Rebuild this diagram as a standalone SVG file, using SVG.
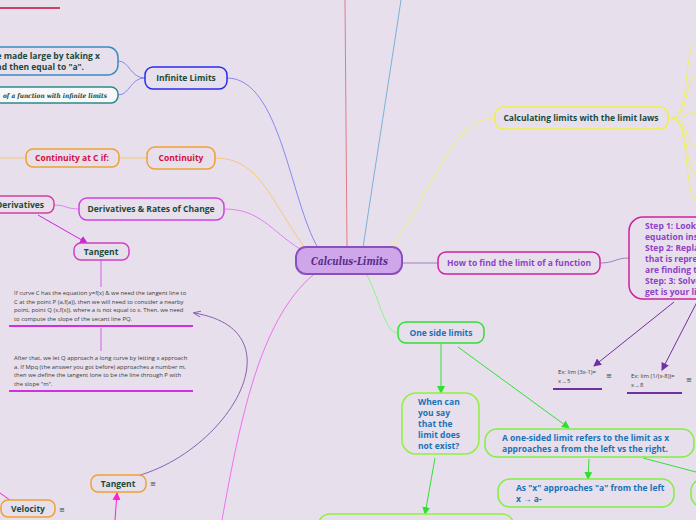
<svg xmlns="http://www.w3.org/2000/svg" width="696" height="520" viewBox="0 0 696 520">
<defs>
<style>
.t{font-family:"Open Sans","Noto Sans","Liberation Sans",sans-serif;font-weight:bold;font-size:8.5px}
.g{fill:#1a4a3a}
.b{fill:#1a72b6}
.p{fill:#9040c8}
.r{fill:#d4103c}
.sm{font-family:"Open Sans","Noto Sans","Liberation Sans",sans-serif;font-size:5.9px;fill:#3a3a3a}
.n{fill:#e7e0ec;stroke-width:1.5}
.c{fill:none;stroke-width:1}
.ic{font-family:"DejaVu Sans",sans-serif;font-size:7px;fill:#1a4a4a}
</style>
<marker id="ag" markerWidth="8" markerHeight="8" refX="7" refY="4" orient="auto" markerUnits="userSpaceOnUse"><path d="M0,0 L8,4 L0,8 z" fill="#30e030"/></marker>
<marker id="ap" markerWidth="8" markerHeight="8" refX="7" refY="4" orient="auto" markerUnits="userSpaceOnUse"><path d="M0,0 L8,4 L0,8 z" fill="#7030a0"/></marker>
<marker id="am" markerWidth="8" markerHeight="8" refX="7" refY="4" orient="auto" markerUnits="userSpaceOnUse"><path d="M0,0 L8,4 L0,8 z" fill="#d020e0"/></marker>
<marker id="apk" markerWidth="8" markerHeight="8" refX="7" refY="4" orient="auto" markerUnits="userSpaceOnUse"><path d="M0,0 L8,4 L0,8 z" fill="#ff20d0"/></marker>
<marker id="av" markerWidth="8" markerHeight="8" refX="7" refY="4" orient="auto" markerUnits="userSpaceOnUse"><path d="M0,1 L8,4 L0,7" fill="none" stroke="#8a60b0" stroke-width="1"/></marker>
</defs>
<rect width="696" height="520" fill="#e7e0ec"/>

<g id="connectors">
<path class="c" d="M345,0 L347,247" stroke="#e07a8a" stroke-width="1.2"/>
<path class="c" d="M401,0 C392,60 370,200 363,248" stroke="#7ab0d8"/>
<path class="c" d="M390,248 C430,200 450,118 495,118" stroke="#f0f070"/>
<path class="c" d="M318,248 C290,200 280,78 227,78" stroke="#8888f0"/>
<path class="c" d="M305,248 C270,200 260,158 215,158" stroke="#f8c878"/>
<path class="c" d="M300,249 C270,230 260,209 224,209" stroke="#e080f0"/>
<path class="c" d="M402,263 L438,263" stroke="#a080c0" stroke-width="1.5"/>
<path class="c" d="M367,275 C380,300 385,333 398,333" stroke="#90f090"/>
<path class="c" d="M313,275 C260,320 240,420 222,520" stroke="#f070f0"/>
<path class="c" d="M145,78 C130,78 130,61 118,61" stroke="#8888f0"/>
<path class="c" d="M145,78 C130,78 130,95 118,95" stroke="#8888f0"/>
<path class="c" d="M147,158 L119,158" stroke="#f8c878"/>
<path class="c" d="M26,158 L0,158" stroke="#f8c878"/>
<path class="c" d="M79,209 C66,209 66,205 54,205" stroke="#e080f0"/>
<path class="c" d="M38,215 L87,243" stroke="#d020e0" marker-end="url(#am)"/>
<path class="c" d="M101,260 L101,287" stroke="#d060e0"/>
<path class="c" d="M101,328 L101,351" stroke="#d060e0"/>
<path class="c" d="M137,476 C230,450 300,330 194,313" stroke="#8a60b0" marker-end="url(#av)"/>
<path class="c" d="M115,520 L117,493" stroke="#ff20d0" stroke-width="1.2" marker-end="url(#apk)"/>
<path class="c" d="M0,493 L10,500" stroke="#ff20d0"/>
<path class="c" d="M672,118 C690,118 684,43 696,43 M672,118 C690,118 684,77 696,77 M672,118 C690,118 684,112 696,112 M672,118 C690,118 684,145 696,145 M672,118 C690,118 684,173 696,173 M672,118 C690,118 684,199 696,199" stroke="#f0f060"/>
<path class="c" d="M668,118 L674,118" stroke="#f0f040" stroke-width="2"/>
<path class="c" d="M600,263 C615,263 615,258 629,258" stroke="#a080c0" stroke-width="1.2"/>
<path class="c" d="M674,302 L594,366" stroke="#7030a0" stroke-width="1.2" marker-end="url(#ap)"/>
<path class="c" d="M698,300 L662,370" stroke="#7030a0" stroke-width="1.2" marker-end="url(#ap)"/>
<path class="c" d="M441,344 L441,393" stroke="#30e030" marker-end="url(#ag)"/>
<path class="c" d="M435,458 L425,514" stroke="#30e030" marker-end="url(#ag)"/>
<path class="c" d="M458,347 L569,428" stroke="#30e030" marker-end="url(#ag)"/>
<path class="c" d="M589,459 L588,479" stroke="#30e030" marker-end="url(#ag)"/>
<path class="c" d="M643,458 L696,472" stroke="#30e030"/>
</g>

<g id="topline"><path d="M0,8 L60,8" stroke="#d04060" stroke-width="2"/></g>

<g id="central">
<rect x="296" y="247" width="106" height="27" rx="10" fill="#cfa6e9" stroke="#8a4fbf" stroke-width="2"/>
<text x="311" y="265" textLength="77" lengthAdjust="spacingAndGlyphs" font-family="DejaVu Serif,serif" font-weight="bold" font-style="italic" font-size="11" fill="#5a2a8a">Calculus-Limits</text>
</g>

<g id="infinite-limits">
<rect class="n" x="145" y="67" width="82" height="22" rx="8" stroke="#2a2aee"/>
<text class="t g" x="186" y="81" text-anchor="middle">Infinite Limits</text>
</g>
<g id="inf-child1">
<rect class="n" x="-20" y="47" width="138" height="28" rx="10" stroke="#3a8ac0"/>
<text class="t g" x="100" y="59" text-anchor="end">be made large by taking x</text>
<text class="t g" x="84" y="70" text-anchor="end">nd then equal to "a".</text>
</g>
<g id="inf-child2">
<rect x="-20" y="87" width="138" height="16" rx="7" fill="#f8f8fb" stroke="#2a8a8a" stroke-width="1.5"/>
<text x="3" y="98" textLength="104" lengthAdjust="spacingAndGlyphs" font-family="DejaVu Serif,serif" font-weight="bold" font-style="italic" font-size="6.5" fill="#1a4a3a">of a function with infinite limits</text>
</g>

<g id="continuity">
<rect class="n" x="147" y="147" width="68" height="22" rx="8" stroke="#f0a030"/>
<text class="t r" x="181" y="161" text-anchor="middle">Continuity</text>
</g>
<g id="continuity-c">
<rect class="n" x="26" y="149" width="93" height="18" rx="7" stroke="#f0a030"/>
<text class="t r" x="72" y="161" text-anchor="middle">Continuity at C if:</text>
</g>

<g id="derivatives-rates">
<rect class="n" x="79" y="198" width="145" height="22" rx="8" stroke="#d040e0"/>
<text class="t g" x="151" y="212" text-anchor="middle">Derivatives &amp; Rates of Change</text>
</g>
<g id="derivatives">
<rect class="n" x="-12" y="196" width="66" height="17" rx="7" stroke="#d040a0"/>
<text class="t g" x="20" y="208" text-anchor="middle">Derivatives</text>
</g>

<g id="tangent1">
<rect class="n" x="74" y="243" width="55" height="17" rx="7" stroke="#d040c0"/>
<text class="t g" x="101" y="255" text-anchor="middle">Tangent</text>
</g>
<g id="tangent-text1">
<text class="sm" x="14" y="295">If curve C has the equation y=f(x) &amp; we need the tangent line to</text>
<text class="sm" x="14" y="303.5">C at the point P (a,f(a)), then we will need to consider a nearby</text>
<text class="sm" x="14" y="312">point, point Q (x,f(x)), where a is not equal to x. Then, we need</text>
<text class="sm" x="14" y="320.5">to compute the slope of the secant line PQ.</text>
<path d="M9,326 L193,326" stroke="#d030e0" stroke-width="2"/>
</g>
<g id="tangent-text2">
<text class="sm" x="14" y="360">After that, we let Q approach a long curve by letting x approach</text>
<text class="sm" x="14" y="368.5">a. If Mpq (the answer you got before) approaches a number m,</text>
<text class="sm" x="14" y="377">then we define the tangent lone to be the line through P with</text>
<text class="sm" x="14" y="385.5">the slope "m".</text>
<path d="M9,391 L193,391" stroke="#d030e0" stroke-width="2"/>
</g>

<g id="tangent2">
<rect class="n" x="91" y="475" width="55" height="17" rx="7" stroke="#f0a030"/>
<text class="t g" x="118" y="487" text-anchor="middle">Tangent</text>
<text class="ic" x="150" y="486">≡</text>
</g>
<g id="velocity">
<rect class="n" x="1" y="500" width="54" height="17" rx="7" stroke="#f0a030"/>
<text class="t g" x="28" y="512" text-anchor="middle">Velocity</text>
<text class="ic" x="59" y="512">≡</text>
</g>

<g id="calc-laws">
<rect class="n" x="495" y="107" width="173" height="22" rx="8" stroke="#f0f040"/>
<text class="t g" x="581" y="121" text-anchor="middle">Calculating limits with the limit laws</text>
</g>

<g id="how-to-find">
<rect class="n" x="438" y="252" width="162" height="22" rx="8" stroke="#d020a0"/>
<text class="t p" x="519" y="266" text-anchor="middle">How to find the limit of a function</text>
</g>
<g id="steps">
<rect class="n" x="629" y="217" width="100" height="82" rx="14" stroke="#d020a0"/>
<text class="t p" x="645" y="229">Step 1: Look at the</text>
<text class="t p" x="645" y="240">equation inside</text>
<text class="t p" x="645" y="251">Step 2: Replace x</text>
<text class="t p" x="645" y="262">that is represented</text>
<text class="t p" x="645" y="273">are finding the</text>
<text class="t p" x="645" y="284">Step: 3: Solve</text>
<text class="t p" x="645" y="295">get is your limit</text>
</g>

<g id="ex1">
<text class="sm" x="558" y="374">Ex: lim (3x-1)=</text>
<text class="sm" x="558" y="383">x→5</text>
<path d="M553,389 L602,389" stroke="#7030a0" stroke-width="2"/>
<text class="ic" x="606" y="378">≡</text>
</g>
<g id="ex2">
<text class="sm" x="631" y="378">Ex: lim (1/(x-8))=</text>
<text class="sm" x="631" y="387">x→8</text>
<path d="M627,393 L682,393" stroke="#7030a0" stroke-width="2"/>
<text class="ic" x="686" y="382">≡</text>
</g>

<g id="one-side">
<rect class="n" x="398" y="322" width="86" height="21" rx="8" stroke="#30e030"/>
<text class="t b" x="441" y="336" text-anchor="middle">One side limits</text>
</g>
<g id="when-can">
<rect class="n" x="402" y="393" width="77" height="61" rx="14" stroke="#90f040"/>
<text class="t b" x="418" y="405">When can</text>
<text class="t b" x="418" y="416">you say</text>
<text class="t b" x="418" y="427">that the</text>
<text class="t b" x="418" y="438">limit does</text>
<text class="t b" x="418" y="449">not exist?</text>
</g>
<g id="bottom-node">
<rect class="n" x="318" y="514" width="196" height="30" rx="12" stroke="#90f040"/>
</g>
<g id="one-sided-def">
<rect class="n" x="485" y="429" width="209" height="28" rx="12" stroke="#80f040"/>
<text class="t b" x="502" y="441">A one-sided limit refers to the limit as x</text>
<text class="t b" x="502" y="452">approaches a from the left vs the right.</text>
</g>
<g id="from-left">
<rect class="n" x="498" y="479" width="176" height="28" rx="12" stroke="#80f040"/>
<text class="t b" x="516" y="491">As "x" approaches "a" from the left</text>
<text class="t b" x="516" y="502">x → a-</text>
</g>
<g id="from-right">
<rect class="n" x="691" y="479" width="40" height="28" rx="12" stroke="#80f040"/>
</g>
</svg>
